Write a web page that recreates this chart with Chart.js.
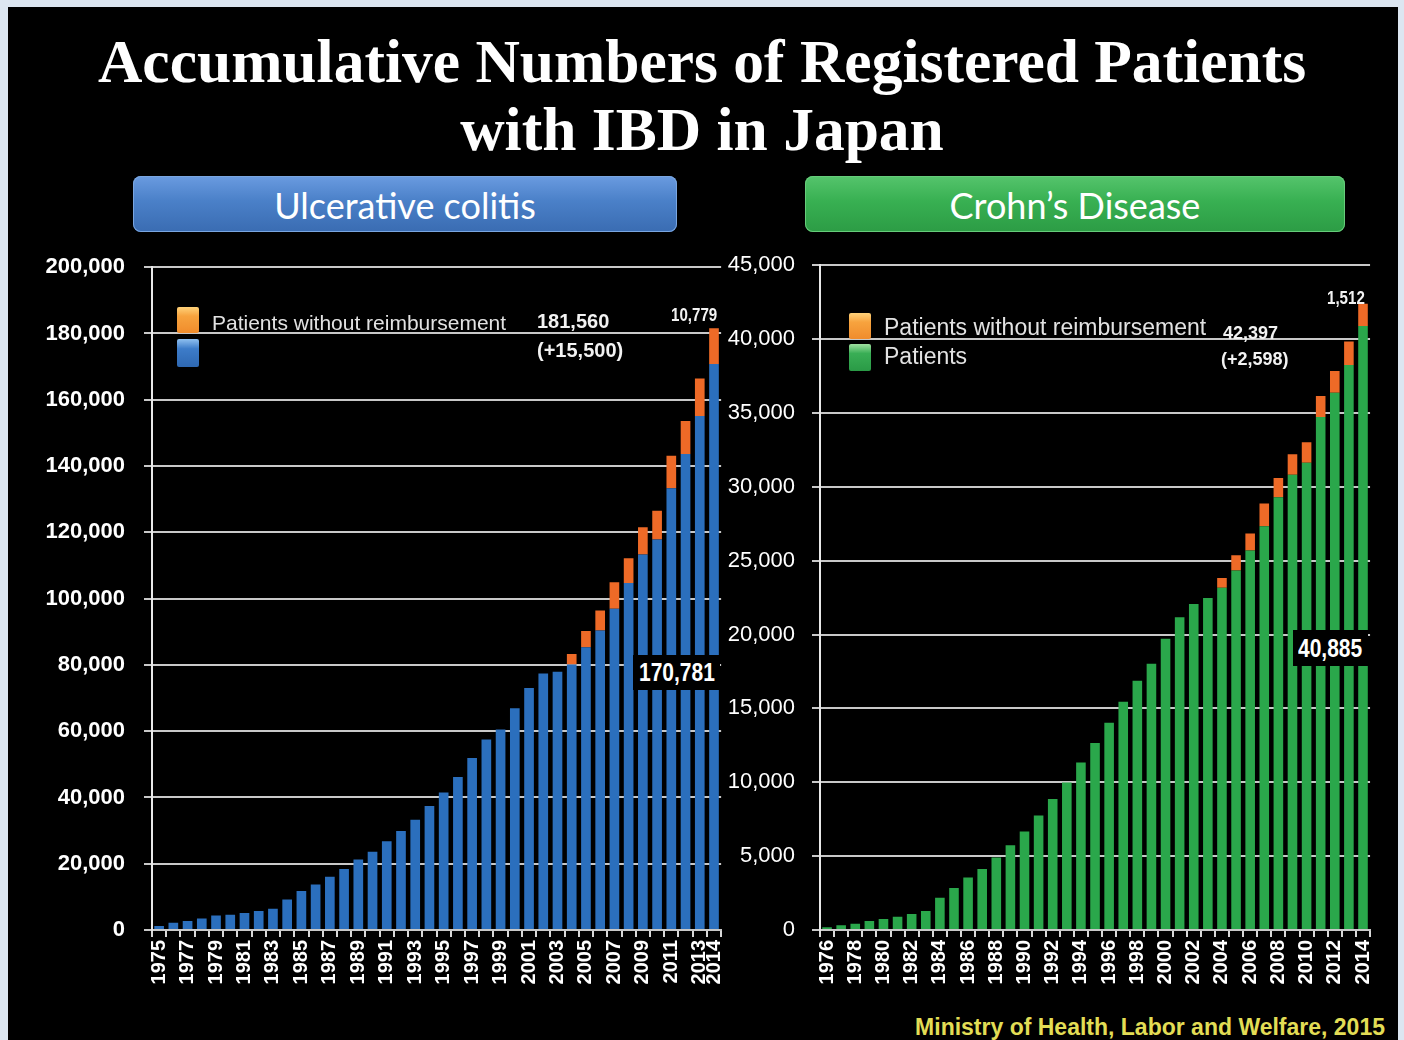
<!DOCTYPE html>
<html>
<head>
<meta charset="utf-8">
<script src="https://cdn.jsdelivr.net/npm/chart.js@4.4.1/dist/chart.umd.min.js"></script>
<style>
  body { margin:0; width:1404px; height:1040px; background:#dce6f1; position:relative; overflow:hidden; font-family:'Liberation Sans', Arial, sans-serif; }
  #panel { position:absolute; left:8px; top:7px; width:1390px; height:1040px; background:#000; }
  .abs { position:absolute; white-space:nowrap; }
  .title { left:0; width:1404px; text-align:center; font:bold 61.5px 'Liberation Serif', 'Times New Roman', serif; line-height:62px; color:#fff; }
  .hdr { position:absolute; top:176px; height:45px; padding-top:11px; border-radius:8px; color:#fff; text-align:center; font:36px Lato, 'Open Sans', sans-serif; line-height:36px; }
  #hdrUC { left:133px; width:544px; background:linear-gradient(#6a9be0, #4a80c8 45%, #3a6cb2); box-shadow:inset 0 0 0 1px #7aa6e0; }
  #hdrCD { left:805px; width:540px; background:linear-gradient(#55c46c, #38b052 45%, #2c9c45); box-shadow:inset 0 0 0 1px #66cc7a; }
  .sw { position:absolute; width:22px; height:26px; border-radius:2px; }
  .orange { background:linear-gradient(#ffd27a, #f7a33e 35%, #f08c2c); }
  .blue { background:linear-gradient(#8fc0f0, #3d7cc9 35%, #2e68b2); }
  .green { background:linear-gradient(#9fe0a0, #39ae55 35%, #2a9a46); }
  .leg { color:#e2e2e2; }
  .note { color:#f2f2f2; font-weight:bold; }
  .narrow { display:inline-block; transform:scaleX(0.84); transform-origin:left center; }
  .box { position:absolute; background:#000; color:#fff; font-weight:bold; font-size:25px; }
  .box span { display:inline-block; transform:scaleX(0.84); transform-origin:left center; }
  canvas { position:absolute; }
</style>
</head>
<body>
<div id="panel"></div>

<div class="abs title" style="top:30px">Accumulative Numbers of Registered Patients</div>
<div class="abs title" style="top:98px">with IBD in Japan</div>

<div class="hdr" id="hdrUC">Ulcerative colitis</div>
<div class="hdr" id="hdrCD">Crohn’s Disease</div>

<canvas id="ucChart" width="721" height="765" style="left:20px; top:235px"></canvas>
<canvas id="cdChart" width="690" height="765" style="left:700px; top:235px"></canvas>

<!-- UC legend + notes -->
<div class="sw orange" style="left:177px; top:307px"></div>
<div class="sw blue" style="left:177px; top:339px; height:28px"></div>
<div class="abs leg" style="left:212px; top:312px; font-size:21px; line-height:21px">Patients without reimbursement</div>
<div class="abs note" style="left:537px; top:311px; font-size:20px; line-height:20px">181,560</div>
<div class="abs note" style="left:537px; top:340px; font-size:20px; line-height:20px">(+15,500)</div>
<div class="abs note" style="left:671px; top:306px; font-size:18px; line-height:18px"><span class="narrow">10,779</span></div>
<div class="box" style="left:633px; top:655px; width:87px; height:35px; line-height:35px"><span style="margin-left:6px">170,781</span></div>

<!-- CD legend + notes -->
<div class="sw orange" style="left:849px; top:313px"></div>
<div class="sw green" style="left:849px; top:344px; height:27px"></div>
<div class="abs leg" style="left:884px; top:316px; font-size:23px; line-height:23px">Patients without reimbursement</div>
<div class="abs leg" style="left:884px; top:345px; font-size:23px; line-height:23px">Patients</div>
<div class="abs note" style="left:1223px; top:324px; font-size:18px; line-height:18px">42,397</div>
<div class="abs note" style="left:1221px; top:350px; font-size:18px; line-height:18px">(+2,598)</div>
<div class="abs note" style="left:1327px; top:289px; font-size:18px; line-height:18px"><span class="narrow">1,512</span></div>
<div class="box" style="left:1293px; top:630px; width:75px; height:36px; line-height:36px"><span style="margin-left:5px">40,885</span></div>

<div class="abs" style="right:19px; top:1016px; font-size:23px; line-height:23px; font-weight:bold; color:#e2dd55">Ministry of Health, Labor and Welfare, 2015</div>

<script>
// Ulcerative colitis, 1975-2014
var ucYears = ['1975','1976','1977','1978','1979','1980','1981','1982','1983','1984',
  '1985','1986','1987','1988','1989','1990','1991','1992','1993','1994',
  '1995','1996','1997','1998','1999','2000','2001','2002','2003','2004',
  '2005','2006','2007','2008','2009','2010','2011','2012','2013','2014'];
var ucPatients = [1200, 2200, 2700, 3500, 4400, 4600, 5100, 5700, 6400, 9200,
  11800, 13700, 16100, 18400, 21300, 23600, 26800, 29900, 33300, 37400,
  41500, 46200, 51900, 57500, 60500, 66900, 73000, 77400, 77900, 80100,
  85300, 90400, 96900, 104700, 113300, 117800, 133300, 143600, 155100, 170781];
var ucNoReimb = [null, null, null, null, null, null, null, null, null, null,
  null, null, null, null, null, null, null, null, null, null,
  null, null, null, null, null, null, null, null, null, 3200,
  4900, 6000, 8000, 7500, 8200, 8700, 9800, 10000, 11300, 10779];

// Crohn's disease, 1976-2014
var cdYears = ['1976','1977','1978','1979','1980','1981','1982','1983','1984',
  '1985','1986','1987','1988','1989','1990','1991','1992','1993','1994',
  '1995','1996','1997','1998','1999','2000','2001','2002','2003','2004',
  '2005','2006','2007','2008','2009','2010','2011','2012','2013','2014'];
var cdPatients = [180, 320, 430, 610, 750, 900, 1080, 1290, 2190,
  2850, 3550, 4130, 4900, 5740, 6660, 7750, 8860, 9980, 11340,
  12650, 14030, 15450, 16870, 18030, 19720, 21170, 22070, 22480, 23160,
  24330, 25680, 27330, 29300, 30810, 31630, 34720, 36370, 38240, 40885];
var cdNoReimb = [null, null, null, null, null, null, null, null, null,
  null, null, null, null, null, null, null, null, null, null,
  null, null, null, null, null, null, null, null, null, 670,
  1040, 1160, 1540, 1290, 1400, 1390, 1420, 1470, 1590, 1512];

var sans = "'Liberation Sans', Arial, sans-serif";

function makeChart(id, years, base, extra, baseColor, yMax, yStep, yWidth, yPad, yBold, showYear) {
  var ctx = document.getElementById(id).getContext('2d');
  return new Chart(ctx, {
    type: 'bar',
    data: {
      labels: years,
      datasets: [
        { label: 'Patients', data: base, backgroundColor: baseColor,
          barPercentage: 0.68, categoryPercentage: 1.0 },
        { label: 'Patients without reimbursement', data: extra, backgroundColor: '#ee6a27',
          barPercentage: 0.68, categoryPercentage: 1.0 }
      ]
    },
    options: {
      responsive: false,
      animation: false,
      layout: { padding: { top: 13, left: 0, right: 0, bottom: 0 } },
      plugins: { legend: { display: false }, tooltip: { enabled: false } },
      scales: {
        x: {
          stacked: true,
          grid: { display: true, drawOnChartArea: false, drawTicks: true, tickLength: 7, color: '#d8d8d8', lineWidth: 2 },
          border: { display: true, color: '#c8c8c8', width: 2 },
          ticks: {
            autoSkip: false, minRotation: 90, maxRotation: 90, padding: 3,
            color: '#ffffff', font: { family: sans, size: 20, weight: 'bold' },
            callback: function (v) {
              var y = this.getLabelForValue(v);
              return showYear(y) ? y : '';
            }
          },
          afterFit: function (s) { s.height = 70; }
        },
        y: {
          stacked: true,
          min: 0, max: yMax,
          grid: { color: '#c8c8c8', lineWidth: 2, tickLength: 8 },
          border: { display: true, color: '#e8e8e8', width: 2 },
          ticks: {
            stepSize: yStep, padding: yPad, color: '#ffffff',
            font: { family: sans, size: 22, weight: yBold ? 'bold' : 'normal' },
            callback: function (v) { return v.toLocaleString('en-US'); }
          },
          afterFit: function (s) { s.width = yWidth; }
        }
      }
    }
  });
}

makeChart('ucChart', ucYears, ucPatients, ucNoReimb, '#2b6fbd', 200000, 20000, 132, 19, true,
  function (y) { return (+y) % 2 === 1 || y === '2014'; });
makeChart('cdChart', cdYears, cdPatients, cdNoReimb, '#2aa74b', 45000, 5000, 120, 17, false,
  function (y) { return (+y) % 2 === 0; });
</script>
</body>
</html>
